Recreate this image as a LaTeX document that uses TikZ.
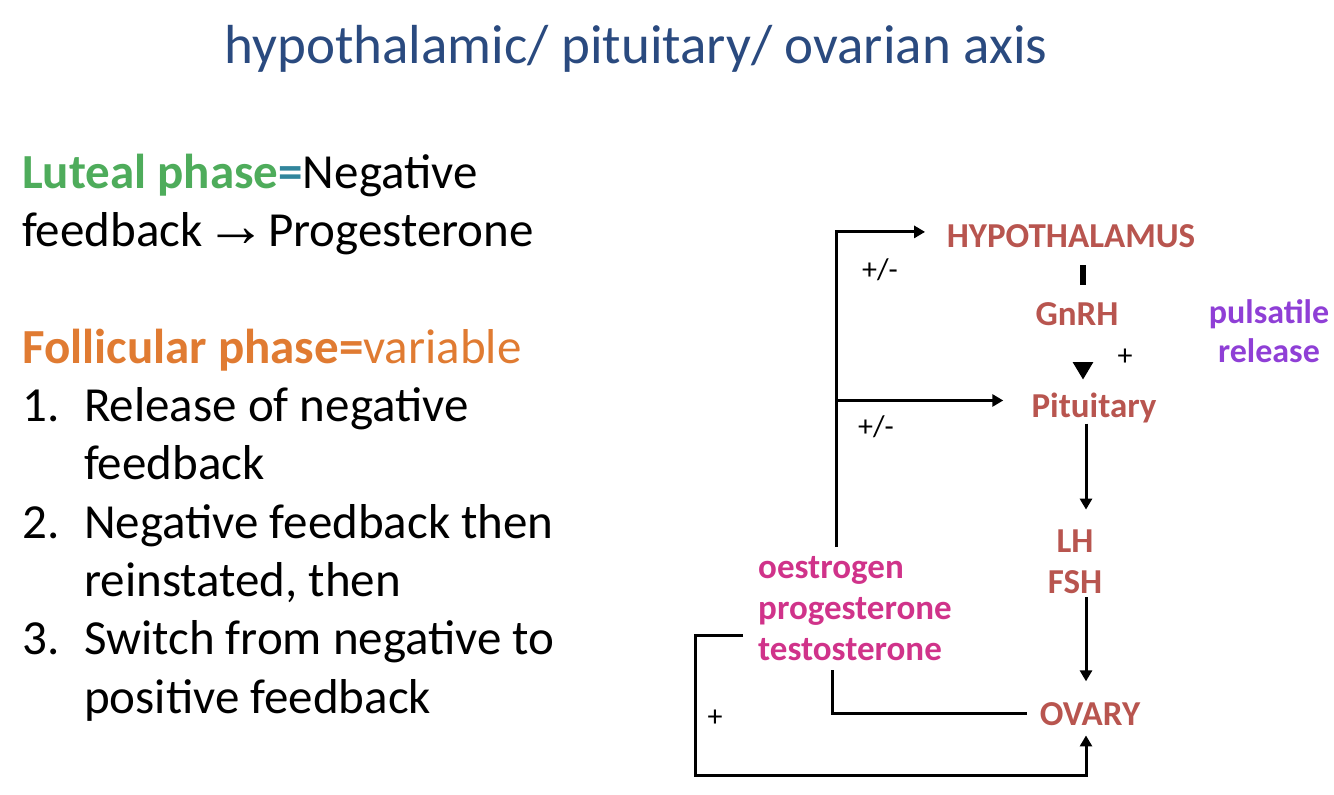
\documentclass[tikz,border=0pt]{standalone}
\usepackage{fontspec}
\setmainfont{Carlito}
\newfontfamily\arrowfont[Scale=1.25]{Liberation Sans}
\usetikzlibrary{arrows.meta}
\definecolor{titleblue}{HTML}{2A4A7F}
\definecolor{lutealgreen}{HTML}{4EAC5B}
\definecolor{eqteal}{HTML}{31859C}
\definecolor{follorange}{HTML}{E07B32}
\definecolor{organred}{HTML}{B8554F}
\definecolor{hormpink}{HTML}{D0338A}
\definecolor{pulsepurple}{HTML}{8F3FD6}

\begin{document}
\begin{tikzpicture}[x=1pt, y=-1pt,
    organ/.style={font=\fontsize{35}{41}\selectfont\bfseries, text=organred, inner sep=0pt, anchor=base},
    sign/.style={font=\fontsize{30}{34}\selectfont, inner sep=0pt},
    link/.style={line width=3pt},
    arrow/.style={-{Triangle[width=12pt,length=11pt]}, line width=3pt},
    bigarrow/.style={-{Triangle[width=22pt,length=20pt]}, line width=6pt}
]
\useasboundingbox (0,0) rectangle (1334,795);

% title and left text
\node[font=\fontsize{55}{60}\selectfont, text=titleblue, inner sep=0pt, anchor=base] (title) at (636,63) {hypothalamic/ pituitary/ ovarian axis};
\node[font=\fontsize{49}{58.3}\selectfont, align=left, inner sep=0pt, anchor=base west] (phases) at (22,713) {%
  {\color{lutealgreen}\bfseries Luteal phase}{\color{eqteal}\bfseries =}Negative\\
  feedback\hspace{-8pt} {\arrowfont →}\hspace{-10pt} Progesterone\\[58.3pt]
  {\color{follorange}\bfseries Follicular phase=}{\color{follorange}variable}\\
  \makebox[62pt][l]{1.}Release of negative\\
  \hspace*{62pt}feedback\\
  \makebox[62pt][l]{2.}Negative feedback then\\
  \hspace*{62pt}reinstated, then\\
  \makebox[62pt][l]{3.}Switch from negative to\\
  \hspace*{62pt}positive feedback};

% axis nodes
\coordinate (axis) at (1086,0);
\coordinate (gnrhaxis) at (1083,0);
\node[organ] (hypo) at (1071,247) {HYPOTHALAMUS};
\node[organ] (pit) at (1094,417) {Pituitary};
\draw[bigarrow, shorten <=18pt, shorten >=12.5pt] (hypo.south -| gnrhaxis) -- (pit.north -| gnrhaxis);
\node[organ, fill=white, inner ysep=17.5pt, inner xsep=4pt, text depth=19.5pt] (gnrh) at (1077,325) {GnRH};
\node[font=\fontsize{34}{39}\selectfont\bfseries, text=pulsepurple, align=center, inner sep=0pt, anchor=base] (pulse) at (1269,362) {pulsatile\\release};
\node[organ, align=center] (gonado) at (1075,593) {LH\\FSH};
\node[organ] (ovary) at (1090,725) {OVARY};
\node[organ, text=hormpink, align=left, anchor=base west] (horm) at (758,660) {oestrogen\\progesterone\\testosterone};

\draw[arrow, shorten <=1pt, shorten >=19.5pt] (pit.south -| axis) -- (gonado.north -| axis);
\draw[arrow, shorten <=4pt, shorten >=20.5pt] (gonado.south -| axis) -- (ovary.north -| axis);

% feedback loops
\coordinate (fb) at (836,547);
\coordinate (hypoin) at ([xshift=-21.5pt, yshift=3.75pt]hypo.west);
\coordinate (pitin) at ([xshift=-28pt, yshift=7pt]pit.west);
\draw[arrow] (fb) |- (hypoin);
\draw[arrow] (fb |- pitin) -- (pitin);
\coordinate (hormout) at (832,670);
\draw[link] ([xshift=-13pt]ovary.west) -| (hormout);
\coordinate (hormloop) at (743,635);
\draw[arrow] (hormloop) -- ++(-48,0) -- ++(0,140) -| ([xshift=-4pt, yshift=-10pt]ovary.south);

\node[sign] (pmhypo) at (880,270) {+/-};
\node[sign] (pmpit) at (876,427) {+/-};
\node[sign] (plusgnrh) at (1125,357) {+};
\node[sign] (plusov) at (715,718) {+};
\end{tikzpicture}
\end{document}
